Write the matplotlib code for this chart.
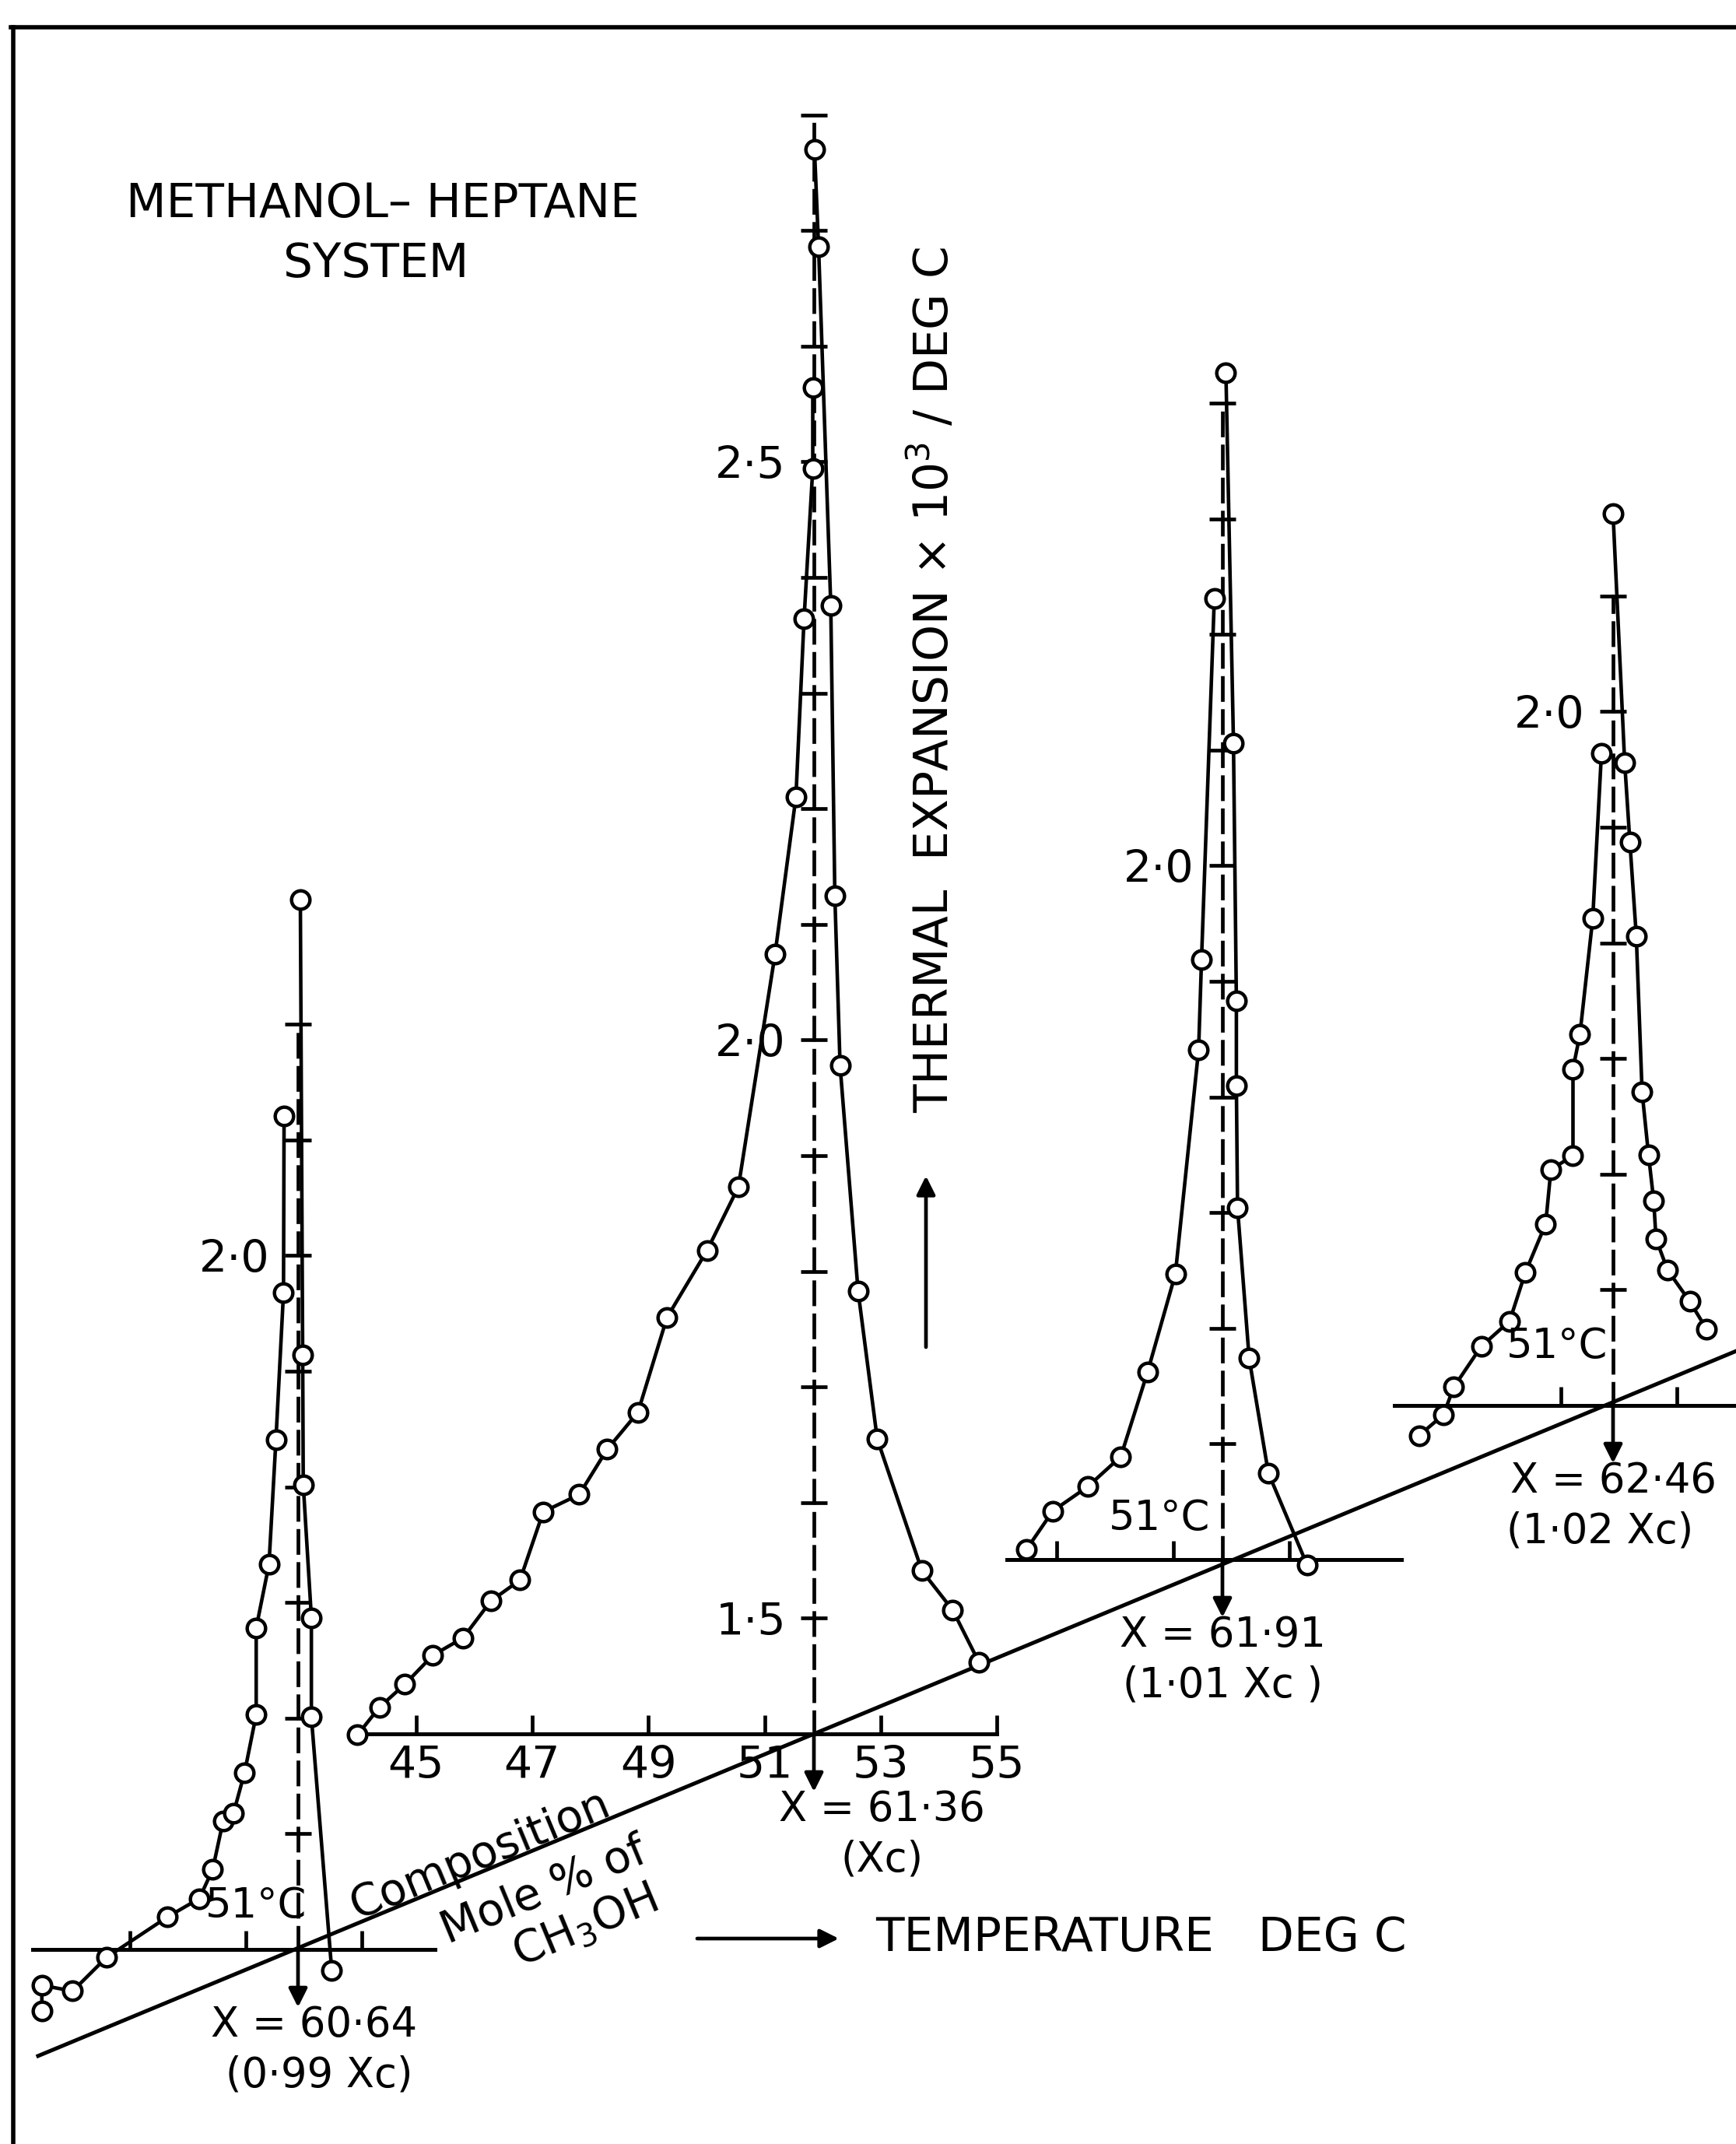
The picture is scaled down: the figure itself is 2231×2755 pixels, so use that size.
import numpy as np
import matplotlib
matplotlib.use("Agg")
import matplotlib.pyplot as plt
from matplotlib.ticker import FuncFormatter

# values: temperature (deg C) and thermal expansion x 10^3 / deg C
# panel 1, X = 60.64
p1_left_T = [47.49, 47.49, 48.02, 48.60, 49.65, 50.20, 50.43, 50.61, 50.79, 50.98, 51.18, 51.18, 51.40, 51.52, 51.65, 51.66]
p1_left_a = [1.347, 1.369, 1.364, 1.393, 1.428, 1.444, 1.469, 1.511, 1.518, 1.553, 1.603, 1.678, 1.733, 1.841, 1.968, 2.121]
p1_right_T = [51.94, 51.98, 51.99, 52.13, 52.13, 52.48]
p1_right_a = [2.308, 1.914, 1.802, 1.687, 1.601, 1.382]

# panel 2, X = 61.36 (Xc)
p2_left_T = [43.99, 44.37, 44.81, 45.29, 45.81, 46.29, 46.79, 47.19, 47.81, 48.29, 48.82, 49.32, 50.01, 50.55, 51.18, 51.54, 51.68, 51.83, 51.83]
p2_left_a = [1.399, 1.423, 1.443, 1.468, 1.483, 1.515, 1.533, 1.592, 1.607, 1.646, 1.678, 1.760, 1.818, 1.873, 2.074, 2.210, 2.364, 2.494, 2.564]
p2_right_T = [51.86, 51.93, 52.14, 52.21, 52.30, 52.61, 52.94, 53.71, 54.24, 54.69]
p2_right_a = [2.770, 2.686, 2.376, 2.125, 1.978, 1.783, 1.655, 1.541, 1.507, 1.462]

# panel 3, X = 61.91
p3_left_T = [48.48, 48.93, 49.53, 50.10, 50.56, 51.04, 51.44, 51.49, 51.71]
p3_left_a = [1.409, 1.442, 1.463, 1.489, 1.562, 1.647, 1.841, 1.919, 2.231]
p3_right_T = [51.91, 52.04, 52.09, 52.09, 52.11, 52.31, 52.64, 53.31]
p3_right_a = [2.426, 2.106, 1.883, 1.810, 1.704, 1.574, 1.475, 1.395]

# panel 4, X = 62.46
p4_left_T = [48.56, 48.98, 49.16, 49.63, 50.12, 50.39, 50.74, 50.83, 51.21, 51.21, 51.33, 51.55, 51.70]
p4_left_a = [1.374, 1.392, 1.416, 1.451, 1.473, 1.515, 1.557, 1.604, 1.616, 1.691, 1.721, 1.821, 1.964]
p4_right_T = [51.90, 52.10, 52.19, 52.30, 52.40, 52.51, 52.60, 52.64, 52.84, 53.22, 53.51]
p4_right_a = [2.171, 1.956, 1.887, 1.806, 1.671, 1.617, 1.577, 1.544, 1.517, 1.490, 1.466]

crit_T = [51.9, 51.85, 51.85, 51.9]
compositions = ["X = 60·64", "X = 61·36", "X = 61·91", "X = 62·46"]
ratios = ["(0·99 Xc)", "(Xc)", "(1·01 Xc )", "(1·02 Xc)"]
base_range = [(47.33, 54.26), (43.99, 55.0), (48.14, 54.93), (48.14, 54.2)]
x_ticks = [[49, 51, 53], [45, 47, 49, 51, 53, 55], [49, 51, 53], [51, 53]]
axis_top = [2.2, 2.8, 2.4, 2.1]
y_labels = [[2.0], [1.5, 2.0, 2.5], [2.0], [2.0]]

# layout (pixels of the 2231 x 2755 picture)
W, H = 2231, 2755
SX = 74.65    # px per deg C
SY = 1486.0   # px per unit of expansion
BASE = 1.40
origins = [(383, 2505), (1046, 2228), (1571, 2004), (2073, 1806)]
deg_label = [(51.18, 1.438), (None, None), (50.77, 1.436), (50.94, 1.451)]
x_label_off = [(0.28, 0.37), (1.17, 1.17), (0.01, 0.01), (0.0, -0.23)]

plt.rcParams['font.family'] = 'DejaVu Sans'
fig = plt.figure(figsize=(W / 100, H / 100), dpi=100)

bg = fig.add_axes([0, 0, 1, 1])
bg.set_xlim(0, W)
bg.set_ylim(H, 0)
bg.axis('off')

# frame
bg.plot([14, W], [35, 35], color='k', lw=4)
bg.plot([17, 17], [35, H], color='k', lw=4)

branches = [(p1_left_T, p1_left_a, p1_right_T, p1_right_a),
            (p2_left_T, p2_left_a, p2_right_T, p2_right_a),
            (p3_left_T, p3_left_a, p3_right_T, p3_right_a),
            (p4_left_T, p4_left_a, p4_right_T, p4_right_a)]

for i in range(4):
    ox, oy = origins[i]
    tc = crit_T[i]
    lo, hi = base_range[i]
    top = axis_top[i]
    xlo, xhi = lo - 1.0, hi + 0.5
    ylo, yhi = 1.20, top + 0.1
    left = ox + (xlo - tc) * SX
    right = ox + (xhi - tc) * SX
    ytop_px = oy - (yhi - BASE) * SY
    ybot_px = oy + (BASE - ylo) * SY
    ax = fig.add_axes([left / W, 1 - ybot_px / H, (right - left) / W, (ybot_px - ytop_px) / H])
    ax.set_xlim(xlo, xhi)
    ax.set_ylim(ylo, yhi)
    ax.patch.set_visible(False)
    ax.spines['top'].set_visible(False)
    ax.spines['right'].set_visible(False)
    ax.spines['bottom'].set_position(('data', BASE))
    ax.spines['bottom'].set_bounds(lo, hi)
    ax.spines['bottom'].set_linewidth(3.6)
    ax.spines['left'].set_position(('data', tc))
    ax.spines['left'].set_bounds(BASE, top)
    ax.spines['left'].set_linewidth(3.4)
    ax.spines['left'].set_linestyle((0, (6, 3)))

    ax.set_xticks(x_ticks[i])
    if i == 1:
        ax.set_xticklabels([str(t) for t in x_ticks[i]])
    else:
        ax.set_xticklabels(['' for t in x_ticks[i]])
    ax.tick_params(axis='x', direction='in', length=17, width=3.4, pad=10, labelsize=41)

    yt = np.round(np.arange(1.5, top + 0.001, 0.1), 1)
    ax.set_yticks(yt)
    labs = y_labels[i]
    ax.yaxis.set_major_formatter(FuncFormatter(
        lambda v, p, labs=labs: f"{v:.1f}".replace('.', '·') if any(abs(v - l) < 1e-6 for l in labs) else ''))
    ax.tick_params(axis='y', direction='inout', length=24, width=3.4, pad=14, labelsize=41)

    # arrow down to the composition
    ax.annotate('', xy=(tc, BASE - 0.05), xytext=(tc, BASE),
                arrowprops=dict(arrowstyle='-|>', lw=3.4, color='k', mutation_scale=36,
                                shrinkA=0, shrinkB=0),
                annotation_clip=False)

    lT, la, rT, ra = branches[i]
    for T, a in ((lT, la), (rT, ra)):
        ax.plot(T, a, '-o', color='k', lw=3.3, ms=17, mfc='white', mec='k', mew=3.2,
                clip_on=False, zorder=3)

    dx, dy = deg_label[i]
    if dx is not None:
        ax.text(dx, dy, '51°C', fontsize=38, ha='center', va='center')

    o1, o2 = x_label_off[i]
    ax.text(tc + o1, BASE - 0.065, compositions[i], fontsize=38, ha='center', va='center')
    ax.text(tc + o2, BASE - 0.109, ratios[i], fontsize=38, ha='center', va='center')

# composition axis through the four critical points
oxs = np.array([o[0] for o in origins], dtype=float)
oys = np.array([o[1] for o in origins], dtype=float)
m, b = np.polyfit(oxs, oys, 1)
xs = np.array([49.0, W])
bg.plot(xs, m * xs + b, color='k', lw=3.6)
ang = np.degrees(np.arctan(-m))
bg.text(618, 2384, 'Composition', fontsize=41, rotation=ang, ha='center', va='center', rotation_mode='anchor')
bg.text(699, 2430, 'Mole % of', fontsize=41, rotation=ang, ha='center', va='center', rotation_mode='anchor')
bg.text(752, 2476, 'CH$_3$OH', fontsize=41, rotation=ang, ha='center', va='center', rotation_mode='anchor')

# titles and axis names
bg.text(492, 262, 'METHANOL– HEPTANE', fontsize=43, ha='center', va='center')
bg.text(483, 339, 'SYSTEM', fontsize=43, ha='center', va='center')

bg.text(1200, 874, 'THERMAL  EXPANSION × 10$^3$ / DEG C', fontsize=43, rotation=90,
        ha='center', va='center')
bg.annotate('', xy=(1190, 1511), xytext=(1190, 1731),
            arrowprops=dict(arrowstyle='-|>', lw=3.4, color='k', mutation_scale=36, shrinkA=0, shrinkB=0))

bg.annotate('', xy=(1078, 2491), xytext=(896, 2491),
            arrowprops=dict(arrowstyle='-|>', lw=3.4, color='k', mutation_scale=36, shrinkA=0, shrinkB=0))
bg.text(1125, 2491, 'TEMPERATURE   DEG C', fontsize=43, ha='left', va='center')

fig.savefig('out.png', dpi=100)
